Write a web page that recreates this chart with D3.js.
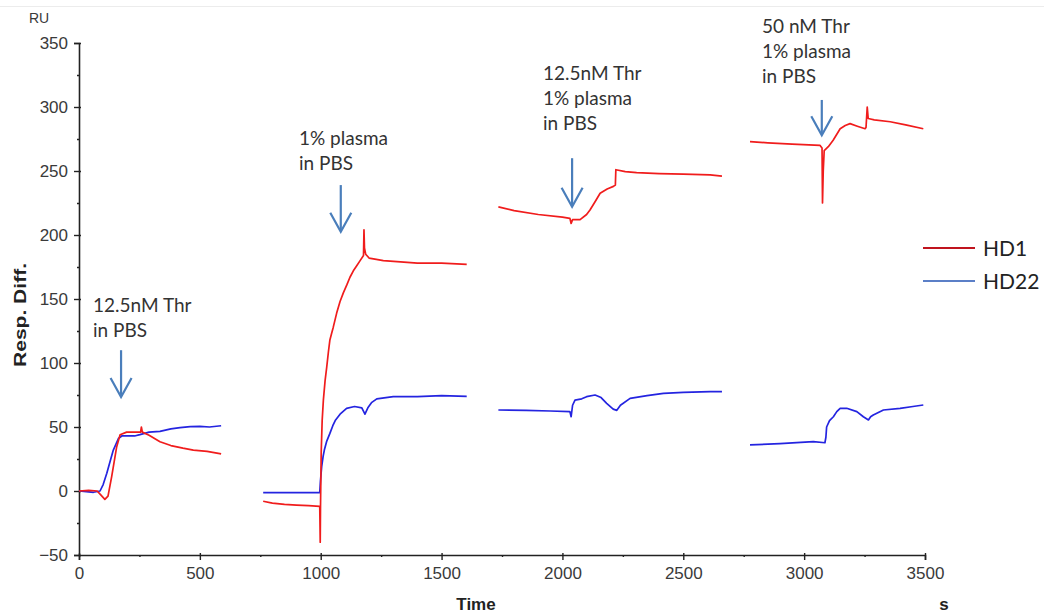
<!DOCTYPE html>
<html>
<head>
<meta charset="utf-8">
<script src="https://cdn.jsdelivr.net/npm/d3@7"></script>
<style>
  html, body { margin: 0; padding: 0; background: #fff; }
  svg { display: block; }
</style>
</head>
<body>
<svg id="chart" width="1044" height="613"></svg>
<script>
// ---------------- data (time s, response RU) ----------------
const hd1Run1 = [[0,0],[40,0.5],[75,0],[90,-3],[107,-6.5],[120,-4],[135,11],[156,34.6],[170,44],[197,46],[230,46],[255,46],[258,50],[262,46],[290,43.5],[335,38.5],[380,35.5],[430,33.5],[473,32],[530,31],[588,29]];
const hd22Run1 = [[0,0],[30,-0.5],[60,-1],[87,0],[100,5],[115,13.8],[130,24],[142,32],[163,41],[177,43],[200,43],[230,43],[252,44],[290,46],[335,46.6],[380,48.5],[418,49.5],[460,50.3],[500,50.5],[540,50],[588,51]];

const hd1Run2 = [[762,-8],[800,-9.5],[850,-10.5],[900,-11],[950,-11.5],[996,-12],[998,-40],[999,-15],[1002,30],[1006,55],[1011,71],[1018,86],[1025,97],[1032,109],[1038,118],[1045,123],[1052,128],[1066,139],[1080,148],[1094,155],[1108,161],[1121,167],[1135,172],[1149,176],[1163,180],[1177,184],[1179,204],[1181,190],[1186,185],[1200,182],[1230,181],[1259,180],[1330,179],[1400,178],[1500,178],[1604,177]];
const hd22Run2 = [[762,-1.3],[850,-1.3],[920,-1.3],[996,-1.3],[999,8],[1004,19],[1010,27],[1015,32],[1025,39],[1038,45],[1050,51],[1060,55],[1080,60],[1107,64.6],[1140,66],[1170,65],[1183,60],[1195,65],[1210,69],[1232,72],[1300,73.7],[1400,73.8],[1500,74.5],[1604,74]];

const hd1Run3 = [[1735,222],[1800,219],[1900,216],[2000,214],[2031,213],[2036,209],[2042,212],[2073,212],[2100,216],[2114,219.5],[2135,226],[2156,232.6],[2185,236],[2211,238],[2219,239],[2221,251],[2260,249.5],[2307,248.7],[2400,248],[2500,247.5],[2611,247],[2660,246]];
const hd22Run3 = [[1735,63.3],[1850,63],[1950,62.5],[2031,62],[2036,58],[2042,67],[2052,71],[2080,72],[2100,73.7],[2135,75],[2160,73],[2183,68.5],[2210,64],[2225,63],[2240,67],[2280,72.4],[2350,74.5],[2418,76.3],[2500,77],[2611,77.6],[2660,77.6]];

const hd1Run4 = [[2776,273],[2850,272],[2950,271],[3066,270],[3074,268],[3076,225],[3079,250],[3083,266],[3100,269],[3120,274],[3149,283],[3170,285.5],[3190,287],[3220,285],[3252,283],[3256,284],[3261,300],[3265,291],[3290,290],[3356,288.5],[3420,286],[3493,283]];
const hd22Run4 = [[2776,36],[2900,37],[3038,38.5],[3086,37.7],[3090,42],[3093,50],[3105,55],[3121,58],[3135,62],[3149,64.6],[3176,64.6],[3218,62],[3245,58],[3266,55.5],[3275,58],[3286,59.4],[3328,63.3],[3397,64.6],[3450,66],[3493,67.2]];

const seriesNames = ["HD1", "HD22"];
const xTicks = [0, 500, 1000, 1500, 2000, 2500, 3000, 3500];
const yTicks = [-50, 0, 50, 100, 150, 200, 250, 300, 350];

// annotation arrows: time, arrow top/bottom (RU), text lines
const annTimes   = [174, 1083, 2040, 3073];
const annTops    = [110, 239, 260, 305.5];
const annBottoms = [73.4, 202.6, 222, 278];
const annLines   = [
  ["12.5nM Thr", "in PBS"],
  ["1% plasma", "in PBS"],
  ["12.5nM Thr", "1% plasma", "in PBS"],
  ["50 nM Thr", "1% plasma", "in PBS"]
];
const annTextX  = [93, 299, 543, 762];
const annTextY0 = [312, 145, 80, 33];

// ---------------- drawing ----------------
const svg = d3.select("#chart");
const x = d3.scaleLinear().domain([0, 3500]).range([79, 925]);
const y = d3.scaleLinear().domain([-50, 350]).range([555, 43]);

// faint top rule
svg.append("line").attr("x1", 0).attr("x2", 1044).attr("y1", 6.5).attr("y2", 6.5)
  .attr("stroke", "#ececec").attr("stroke-width", 1);

const axisColor = "#222";
const labelFont = "'Liberation Sans', Arial, sans-serif";

// Y axis
const gy = svg.append("g").attr("transform", "translate(79,0)");
gy.call(d3.axisLeft(y).tickValues(yTicks).tickSize(5).tickPadding(6).tickFormat(d3.format("d")));
gy.append("g").call(d3.axisRight(y).tickValues(yTicks).tickSize(2).tickFormat(""));
gy.append("g").call(d3.axisLeft(y).tickValues(d3.range(-25, 350, 50)).tickSize(2).tickFormat(""));
// X axis
const gx = svg.append("g").attr("transform", "translate(0,555)");
gx.call(d3.axisBottom(x).tickValues(xTicks).tickSize(5).tickPadding(7).tickFormat(d3.format("d")));
gx.append("g").call(d3.axisTop(x).tickValues(xTicks).tickSize(2).tickFormat(""));
gx.append("g").call(d3.axisBottom(x).tickValues(d3.range(250, 3500, 500)).tickSize(2).tickFormat(""));

svg.selectAll(".domain").attr("stroke", axisColor).attr("stroke-width", 1.6);
svg.selectAll(".tick line").attr("stroke", axisColor).attr("stroke-width", 1.4);
svg.selectAll(".domain").filter(function(){ return this.parentNode !== gy.node() && this.parentNode !== gx.node(); }).remove();
svg.selectAll(".tick text").attr("font-family", labelFont).attr("font-size", 17).attr("fill", "#3a3a3a");

// axis titles
svg.append("text").attr("x", 29).attr("y", 23).attr("font-family", labelFont).attr("font-size", 14)
  .attr("fill", "#3a3a3a").text("RU");
svg.append("text").attr("transform", "translate(26,315) rotate(-90)").attr("text-anchor", "middle")
  .attr("font-family", labelFont).attr("font-size", 16).attr("font-weight", "bold").attr("fill", "#222")
  .attr("textLength", 104).attr("lengthAdjust", "spacingAndGlyphs")
  .text("Resp. Diff.");
svg.append("text").attr("x", 476).attr("y", 610).attr("text-anchor", "middle")
  .attr("font-family", labelFont).attr("font-size", 17).attr("font-weight", "bold").attr("fill", "#222")
  .text("Time");
svg.append("text").attr("x", 944).attr("y", 610).attr("text-anchor", "middle")
  .attr("font-family", labelFont).attr("font-size", 17).attr("font-weight", "bold").attr("fill", "#222")
  .text("s");

// curves
const line = d3.line().x(d => x(d[0])).y(d => y(d[1]));
const redRuns = [hd1Run1, hd1Run2, hd1Run3, hd1Run4];
const blueRuns = [hd22Run1, hd22Run2, hd22Run3, hd22Run4];
svg.append("g").selectAll("path").data(blueRuns).join("path")
  .attr("d", line).attr("fill", "none").attr("stroke", "#2424e0").attr("stroke-width", 1.7)
  .attr("stroke-linejoin", "round");
svg.append("g").selectAll("path").data(redRuns).join("path")
  .attr("d", line).attr("fill", "none").attr("stroke", "#f01c1c").attr("stroke-width", 1.7)
  .attr("stroke-linejoin", "round");

// annotations
const annFont = "Lato, 'Open Sans', sans-serif";
const arrowColor = "#4a7ebb";
annTimes.forEach((t, i) => {
  const ax = x(t), yt = y(annTops[i]), yb = y(annBottoms[i]);
  const g = svg.append("g");
  g.append("line").attr("x1", ax).attr("x2", ax).attr("y1", yt).attr("y2", yb - 1)
    .attr("stroke", arrowColor).attr("stroke-width", 2.2);
  g.append("path").attr("d", `M${ax - 10.5},${yb - 19}L${ax},${yb}L${ax + 10.5},${yb - 19}`)
    .attr("fill", "none").attr("stroke", arrowColor).attr("stroke-width", 2.2);
  const tx = g.append("text").attr("font-family", annFont).attr("font-size", 19).attr("fill", "#333");
  annLines[i].forEach((s, k) => {
    tx.append("tspan").attr("x", annTextX[i]).attr("y", annTextY0[i] + k * 25).text(s);
  });
});

// legend
const legColors = ["#c0141e", "#5b7fc7"];
const legY = [248, 281];
const lg = svg.append("g");
seriesNames.forEach((n, i) => {
  lg.append("line").attr("x1", 923).attr("x2", 975).attr("y1", legY[i]).attr("y2", legY[i])
    .attr("stroke", legColors[i]).attr("stroke-width", 2);
  lg.append("text").attr("x", 983).attr("y", legY[i] + 7.5).attr("font-family", annFont)
    .attr("font-size", 21).attr("fill", "#222").text(n);
});
</script>
</body>
</html>
